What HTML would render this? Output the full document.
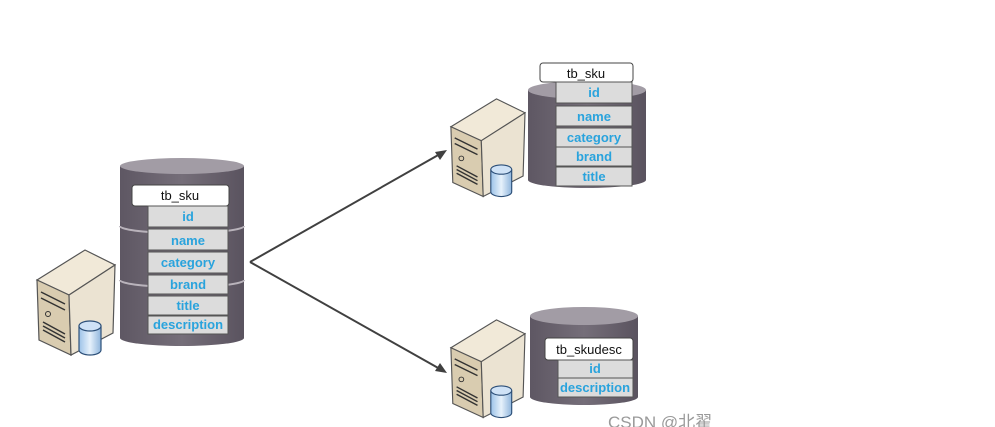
<!DOCTYPE html>
<html><head><meta charset="utf-8"><style>
html,body{margin:0;padding:0;background:#fff;}
svg{display:block;}
text{font-family:"Liberation Sans","DejaVu Sans",sans-serif;}
.f{fill:#29a3dd;font-size:13px;font-weight:bold;text-anchor:middle;}
.h{fill:#111;font-size:13px;text-anchor:middle;}
.r{fill:#dcdcdc;stroke:#555;stroke-width:1;}
</style></head><body>
<svg width="995" height="427" viewBox="0 0 995 427" xmlns="http://www.w3.org/2000/svg">
<defs>
<linearGradient id="cyl" x1="0" x2="1" y1="0" y2="0">
<stop offset="0" stop-color="#5e5763"/><stop offset="0.5" stop-color="#756e79"/><stop offset="1" stop-color="#5a535f"/>
</linearGradient>
<linearGradient id="bl" x1="0" x2="1"><stop offset="0" stop-color="#9cc2e8"/><stop offset="0.5" stop-color="#e6f1fb"/><stop offset="1" stop-color="#8fb5dc"/></linearGradient>
<g id="srv">
<polygon points="2,32 50,2 80,17 34,47" fill="#f1e9d8" stroke="#555" stroke-width="1.2"/>
<polygon points="2,32 34,47 36,107 4,92" fill="#d9ccb0" stroke="#555" stroke-width="1.2"/>
<polygon points="34,47 80,17 78,85 36,107" fill="#ebe3d2" stroke="#555" stroke-width="1.2"/>
<path d="M6,44 L30,56 M6,50 L30,62 M8,74 L30,86 M8,78 L30,90 M8,82 L30,94" stroke="#333" stroke-width="1.5"/>
<circle cx="13" cy="66" r="2.5" fill="none" stroke="#333"/>
<path d="M44,78 v24 a11,5 0 0 0 22,0 v-24" fill="url(#bl)" stroke="#2c4f78" stroke-width="1.2"/>
<ellipse cx="55" cy="78" rx="11" ry="5" fill="#cfe2f6" stroke="#2c4f78" stroke-width="1.2"/>
</g>
</defs>

<!-- arrows -->
<g stroke="#404040" stroke-width="2" fill="none">
<path d="M250,262 L440,154"/><path d="M250,262 L440,369"/>
</g>
<polygon points="447,150 435,152 440,160" fill="#404040"/>
<polygon points="447,373 435,371 440,363" fill="#404040"/>

<!-- left cylinder -->
<path d="M120,166 V338 A62,8 0 0 0 244,338 V166 Z" fill="url(#cyl)"/>
<ellipse cx="182" cy="166" rx="62" ry="8" fill="#a29ca5"/>
<path d="M120,226 A62,7 0 0 0 244,226 M120,280 A62,7 0 0 0 244,280" stroke="#b9b3bb" stroke-width="2" fill="none"/>
<rect x="132" y="185" width="97" height="21" rx="3" fill="#fff" stroke="#444"/>
<text class="h" x="180" y="200">tb_sku</text>
<rect class="r" x="148" y="206" width="80" height="21"/><text class="f" x="188" y="221">id</text>
<rect class="r" x="148" y="229" width="80" height="21"/><text class="f" x="188" y="245">name</text>
<rect class="r" x="148" y="252" width="80" height="21"/><text class="f" x="188" y="267">category</text>
<rect class="r" x="148" y="275" width="80" height="19"/><text class="f" x="188" y="289">brand</text>
<rect class="r" x="148" y="296" width="80" height="19"/><text class="f" x="188" y="310">title</text>
<rect class="r" x="148" y="316" width="80" height="18"/><text class="f" x="188" y="329">description</text>
<use href="#srv" x="35" y="248"/>

<!-- top right -->
<path d="M528,90 V180 A59,8 0 0 0 646,180 V90 Z" fill="url(#cyl)"/>
<ellipse cx="587" cy="90" rx="59" ry="9" fill="#a29ca5"/>
<rect x="540" y="63" width="93" height="19" rx="3" fill="#fff" stroke="#444"/>
<text class="h" x="586" y="78">tb_sku</text>
<rect class="r" x="556" y="82" width="76" height="21"/><text class="f" x="594" y="97">id</text>
<rect class="r" x="556" y="106" width="76" height="20"/><text class="f" x="594" y="121">name</text>
<rect class="r" x="556" y="128" width="76" height="19"/><text class="f" x="594" y="142">category</text>
<rect class="r" x="556" y="147" width="76" height="19"/><text class="f" x="594" y="161">brand</text>
<rect class="r" x="556" y="167" width="76" height="19"/><text class="f" x="594" y="181">title</text>
<use href="#srv" transform="translate(449,97) scale(0.95,0.93)"/>

<!-- bottom right -->
<path d="M530,316 V397 A54,8 0 0 0 638,397 V316 Z" fill="url(#cyl)"/>
<ellipse cx="584" cy="316" rx="54" ry="9" fill="#a29ca5"/>
<rect x="545" y="338" width="88" height="22" rx="3" fill="#fff" stroke="#444"/>
<text class="h" x="589" y="354">tb_skudesc</text>
<rect class="r" x="558" y="360" width="75" height="18"/><text class="f" x="595" y="373">id</text>
<rect class="r" x="558" y="378" width="75" height="19"/><text class="f" x="595" y="392">description</text>
<use href="#srv" transform="translate(449,318) scale(0.95,0.93)"/>

<text x="608" y="428" fill="#9a9a9a" font-size="17" style='font-family:"Liberation Sans","Noto Sans CJK SC",sans-serif'>CSDN @北翟</text>
</svg>
</body></html>
